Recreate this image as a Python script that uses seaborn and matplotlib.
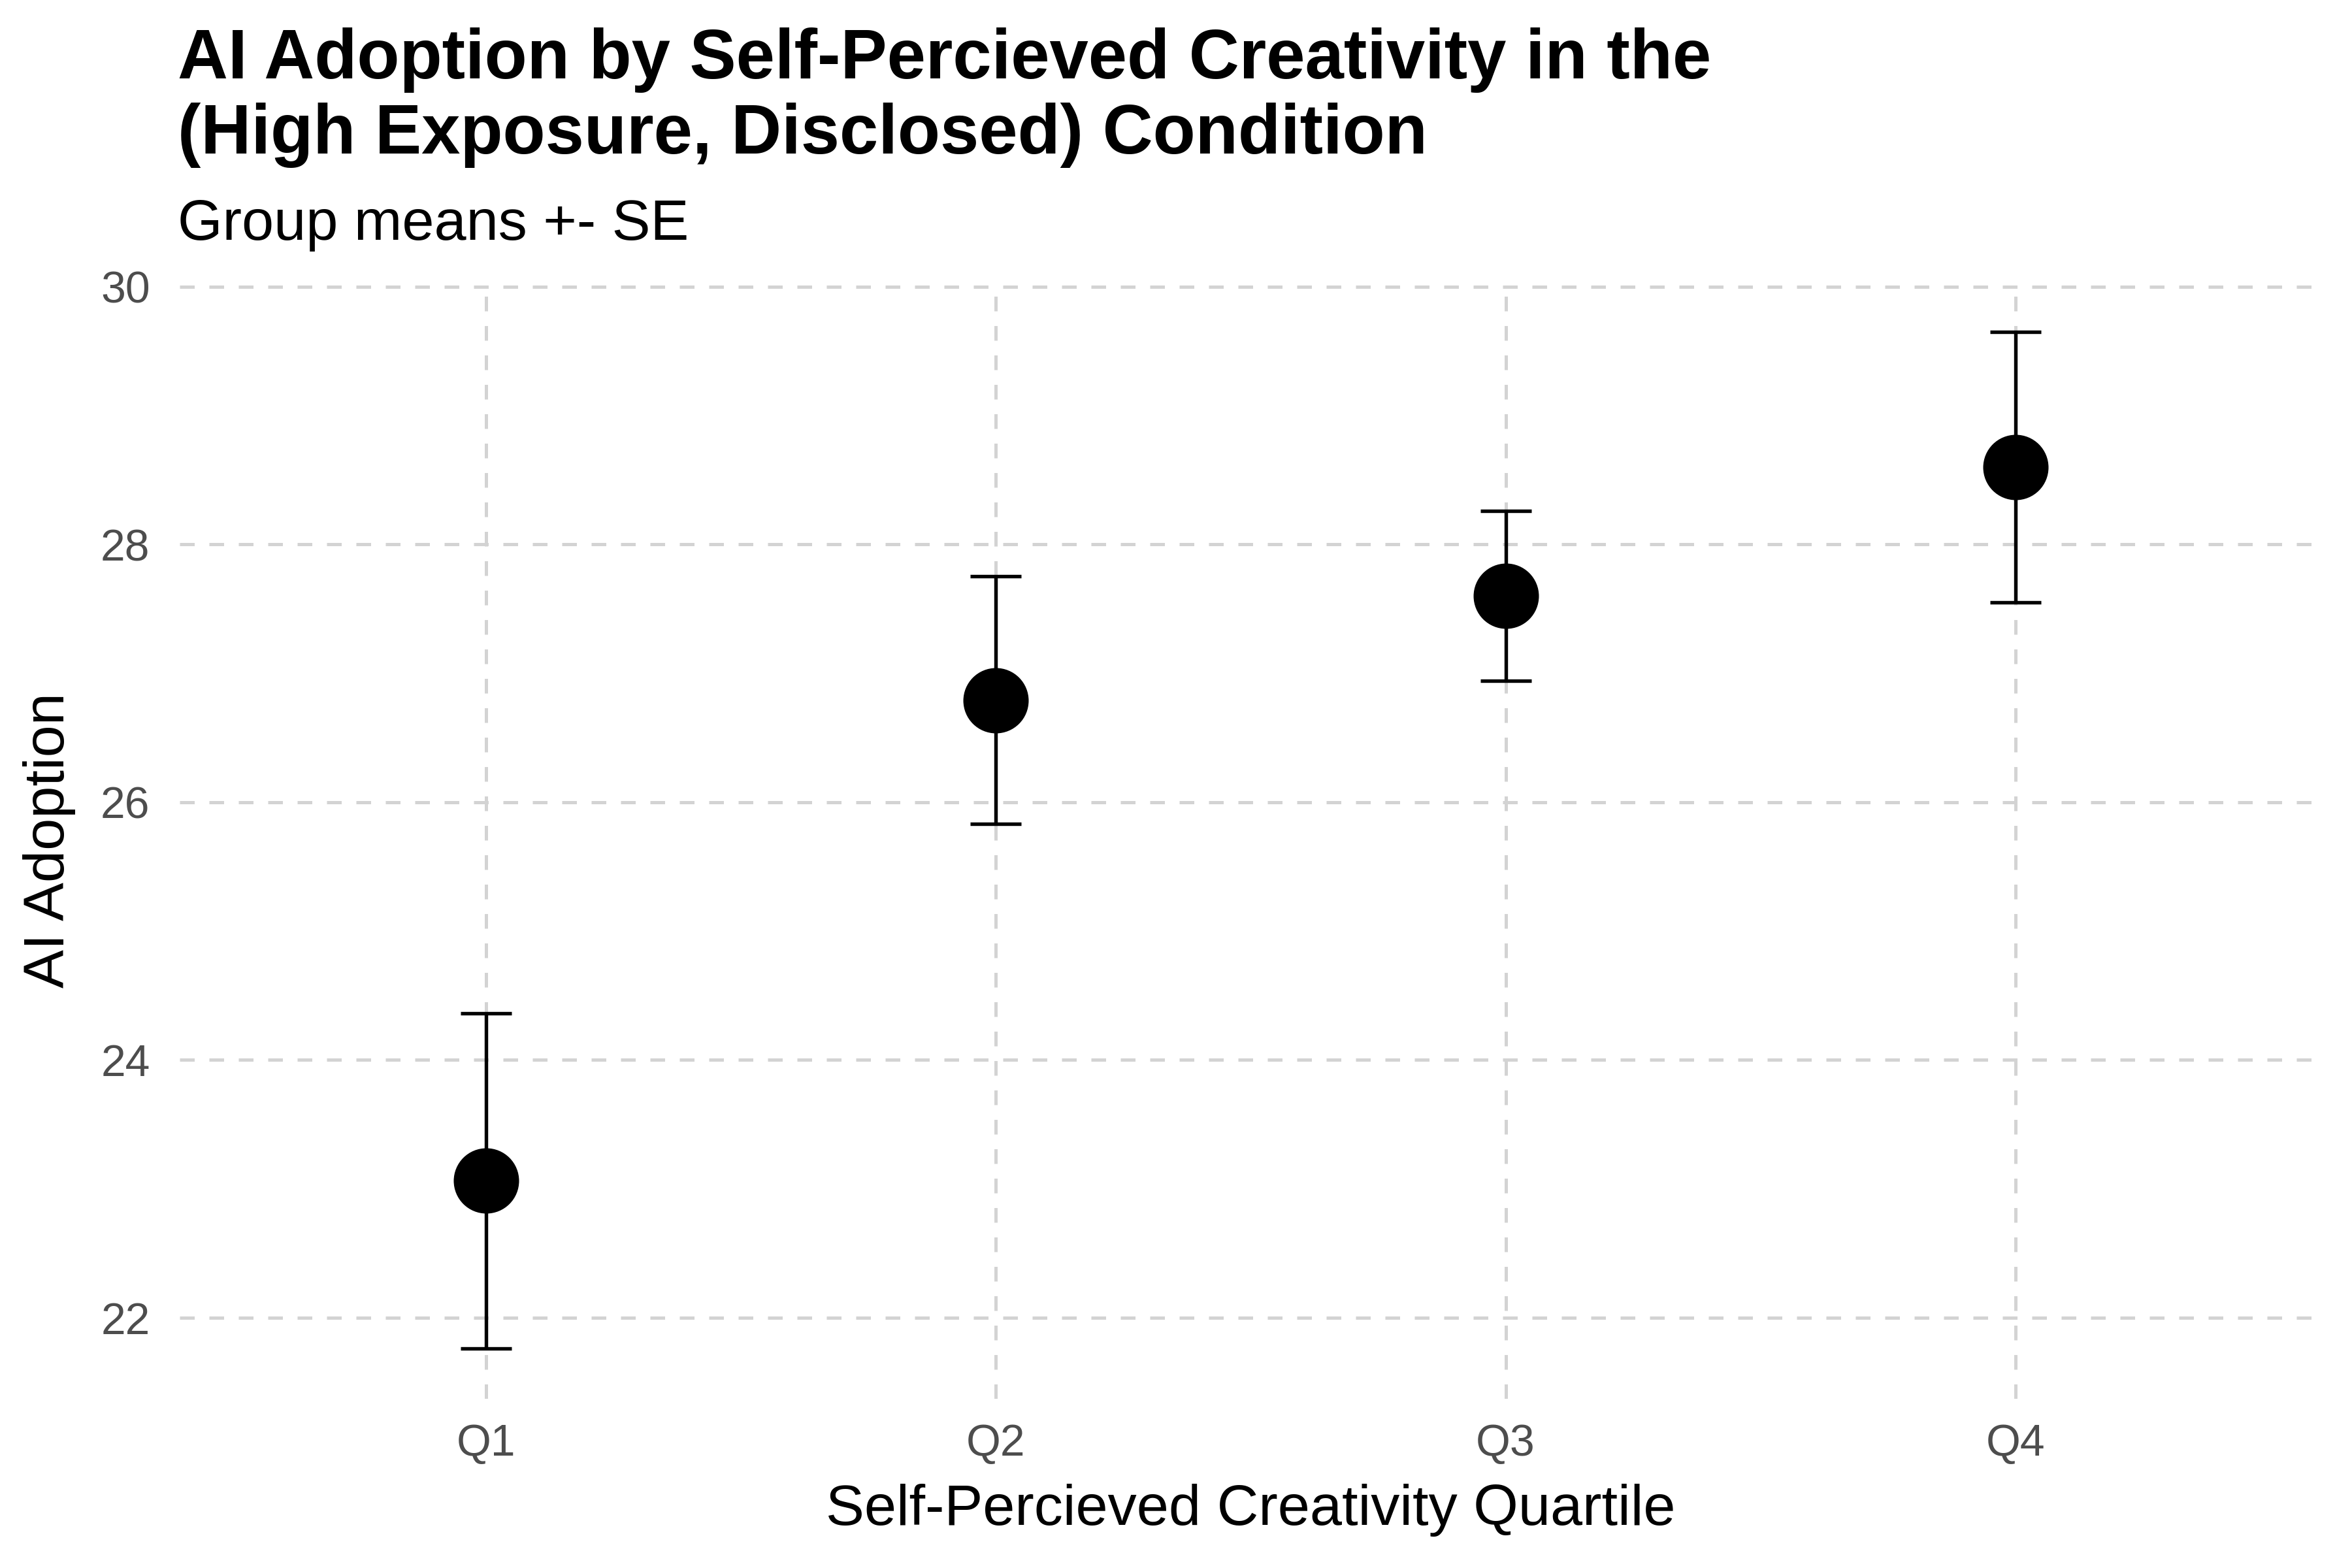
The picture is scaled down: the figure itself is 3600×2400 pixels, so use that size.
import pandas as pd
import seaborn as sns
import matplotlib.pyplot as plt

# group means +- SE
quartiles = ["Q1", "Q2", "Q3", "Q4"]
means = [23.06, 26.79, 27.60, 28.60]
se = [1.30, 0.96, 0.66, 1.05]
y_ticks = [22, 24, 26, 28, 30]

df = pd.DataFrame({"quartile": quartiles, "mean": means, "se": se})

sns.set_theme(style="white")
plt.rcParams["font.family"] = ["Liberation Sans", "DejaVu Sans"]
plt.rcParams["text.color"] = "black"

fig = plt.figure(figsize=(12, 8), dpi=300)
ax = fig.add_axes([0.0765, 0.108, 0.9105, 0.7125])

ax.errorbar(range(len(quartiles)), df["mean"], yerr=df["se"], fmt="none",
            ecolor="black", elinewidth=1.3, capsize=9.3, capthick=1.3, zorder=2)
sns.pointplot(data=df, x="quartile", y="mean", order=quartiles, color="black",
              linestyle="none", errorbar=None, markersize=24, markeredgewidth=0,
              ax=ax, zorder=3)

# plot cosmetics (ggplot minimal look)
ax.set_xlim(-0.6, 3.6)
ax.set_ylim(21.37, 30.04)
ax.set_yticks(y_ticks)
ax.grid(True, color="#d3d3d3", linestyle=(0, (4.5, 4.5)), linewidth=1.2)
ax.set_axisbelow(True)
for s in ax.spines.values():
    s.set_visible(False)
ax.tick_params(axis="both", length=0, labelsize=16.3, labelcolor="#4d4d4d")
ax.tick_params(axis="y", pad=11)
ax.tick_params(axis="x", pad=9)
ax.set_xlabel("Self-Percieved Creativity Quartile", fontsize=21.2, color="black", labelpad=7)
ax.set_ylabel("AI Adoption", fontsize=21.2, color="black", labelpad=9)

fig.text(0.0756, 0.95, "AI Adoption by Self-Percieved Creativity in the",
         fontsize=25.6, fontweight="bold", va="baseline", ha="left", color="black")
fig.text(0.0756, 0.902, "(High Exposure, Disclosed) Condition",
         fontsize=25.6, fontweight="bold", va="baseline", ha="left", color="black")
fig.text(0.0756, 0.847, "Group means +- SE", fontsize=21.2, va="baseline",
         ha="left", color="black")

fig.savefig("out.png", dpi=300, facecolor="white")
